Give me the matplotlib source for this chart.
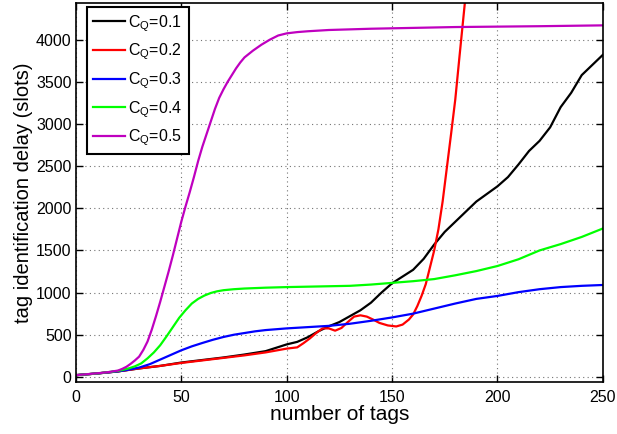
import matplotlib

matplotlib.use("Agg")
import matplotlib.pyplot as plt

plt.rcParams["font.family"] = ["Liberation Sans", "DejaVu Sans"]
plt.rcParams["mathtext.fontset"] = "custom"
plt.rcParams["mathtext.rm"] = "Liberation Sans"

# C_Q = 0.1
tags_01 = [0, 10, 20, 30, 40, 50, 60, 70, 80, 90, 100, 105, 110, 115, 120, 125, 130, 135, 140, 145,
           150, 155, 160, 165, 170, 175, 180, 185, 190, 195, 200, 205, 210, 215, 220, 225, 230, 235,
           240, 245, 250]
delay_01 = [20, 40, 65, 100, 130, 170, 200, 230, 265, 305, 385, 415, 470, 540, 600, 650, 720, 790,
            880, 1000, 1110, 1190, 1270, 1400, 1570, 1720, 1840, 1960, 2080, 2170, 2260, 2370, 2520,
            2680, 2800, 2960, 3200, 3370, 3580, 3700, 3820]

# C_Q = 0.2
tags_02 = [0, 10, 20, 30, 40, 50, 60, 70, 80, 90, 100, 105, 108, 111, 114, 117, 120, 123, 126, 129,
           132, 135, 138, 141, 144, 148, 152, 155, 158, 160, 162, 164, 166, 168, 170, 172, 174, 176,
           178, 180, 182, 184, 186]
delay_02 = [20, 40, 65, 100, 130, 165, 195, 225, 255, 290, 335, 350, 400, 456, 520, 575, 575, 548,
            580, 650, 715, 730, 715, 680, 640, 610, 598, 620, 680, 740, 840, 960, 1100, 1300, 1500,
            1750, 2080, 2480, 2880, 3290, 3800, 4300, 4800]

# C_Q = 0.3
tags_03 = [0, 10, 20, 25, 30, 35, 40, 45, 50, 55, 60, 65, 70, 75, 80, 85, 90, 100, 110, 120, 130,
           140, 150, 160, 170, 180, 190, 200, 210, 220, 230, 240, 250]
delay_03 = [20, 40, 65, 85, 110, 150, 205, 260, 315, 362, 402, 440, 473, 500, 520, 540, 555, 575,
            590, 605, 630, 665, 705, 750, 810, 870, 925, 960, 1005, 1040, 1065, 1080, 1090]

# C_Q = 0.4
tags_04 = [0, 10, 20, 25, 28, 31, 34, 37, 40, 43, 46, 49, 52, 55, 58, 61, 64, 67, 70, 75, 80, 90,
           100, 110, 120, 130, 140, 150, 160, 170, 180, 190, 200, 210, 220, 230, 240, 250]
delay_04 = [20, 40, 70, 100, 125, 160, 220, 290, 375, 480, 590, 700, 790, 870, 925, 965, 995, 1015,
            1028, 1040, 1048, 1058, 1065, 1070, 1075, 1080, 1095, 1115, 1135, 1160, 1205, 1255, 1315,
            1395, 1500, 1575, 1660, 1760]

# C_Q = 0.5
tags_05 = [0, 10, 15, 20, 22, 24, 26, 28, 30, 32, 34, 36, 38, 40, 42, 44, 46, 48, 50, 52, 54, 56,
           58, 60, 62, 64, 66, 68, 70, 72, 74, 76, 78, 80, 84, 88, 92, 96, 100, 105, 110, 120, 140,
           160, 180, 200, 220, 250]
delay_05 = [20, 42, 55, 75, 95, 120, 155, 195, 240, 320, 420, 560, 720, 890, 1070, 1250, 1440, 1640,
            1840, 2020, 2190, 2370, 2560, 2730, 2880, 3030, 3180, 3310, 3410, 3500, 3580, 3660, 3730,
            3790, 3870, 3940, 4000, 4050, 4075, 4090, 4100, 4115, 4130, 4140, 4150, 4155, 4160, 4170]

series = [
    (tags_01, delay_01, "k", "0.1"),
    (tags_02, delay_02, (1, 0, 0), "0.2"),
    (tags_03, delay_03, (0, 0, 1), "0.3"),
    (tags_04, delay_04, (0, 1, 0), "0.4"),
    (tags_05, delay_05, (0.75, 0, 0.75), "0.5"),
]

fig = plt.figure(figsize=(6.17, 4.34), dpi=100)
ax = fig.add_axes([0.123, 0.120, 0.854, 0.874])

for xs, ys, color, cq in series:
    ax.plot(xs, ys, color=color, lw=1.6, label=r"$\mathregular{C_Q}$=" + cq)

ax.set_xlim(0, 250)
ax.set_ylim(-60, 4440)
ax.set_xticks([0, 50, 100, 150, 200, 250])
ax.set_yticks(range(0, 4001, 500))
ax.grid(True, color="0.45", linestyle=(0, (1, 3)), lw=0.8)
ax.tick_params(direction="in", top=True, right=True, labelsize=11.5, length=5, width=1)
ax.tick_params(axis="x", pad=6)
ax.tick_params(axis="y", pad=3)
for spine in ax.spines.values():
    spine.set_linewidth(1.2)

ax.set_xlabel("number of tags", fontsize=15, labelpad=0)
ax.set_ylabel("tag identification delay (slots)", fontsize=14.5, labelpad=2)

leg = ax.legend(loc="upper left", bbox_to_anchor=(0.021, 0.989), fontsize=11.5, fancybox=False,
                framealpha=1, edgecolor="k", handlelength=2.0, handletextpad=0.2,
                labelspacing=0.5, borderpad=0.4, borderaxespad=0)
leg.get_frame().set_linewidth(1.5)

fig.savefig("out.png", dpi=100)
